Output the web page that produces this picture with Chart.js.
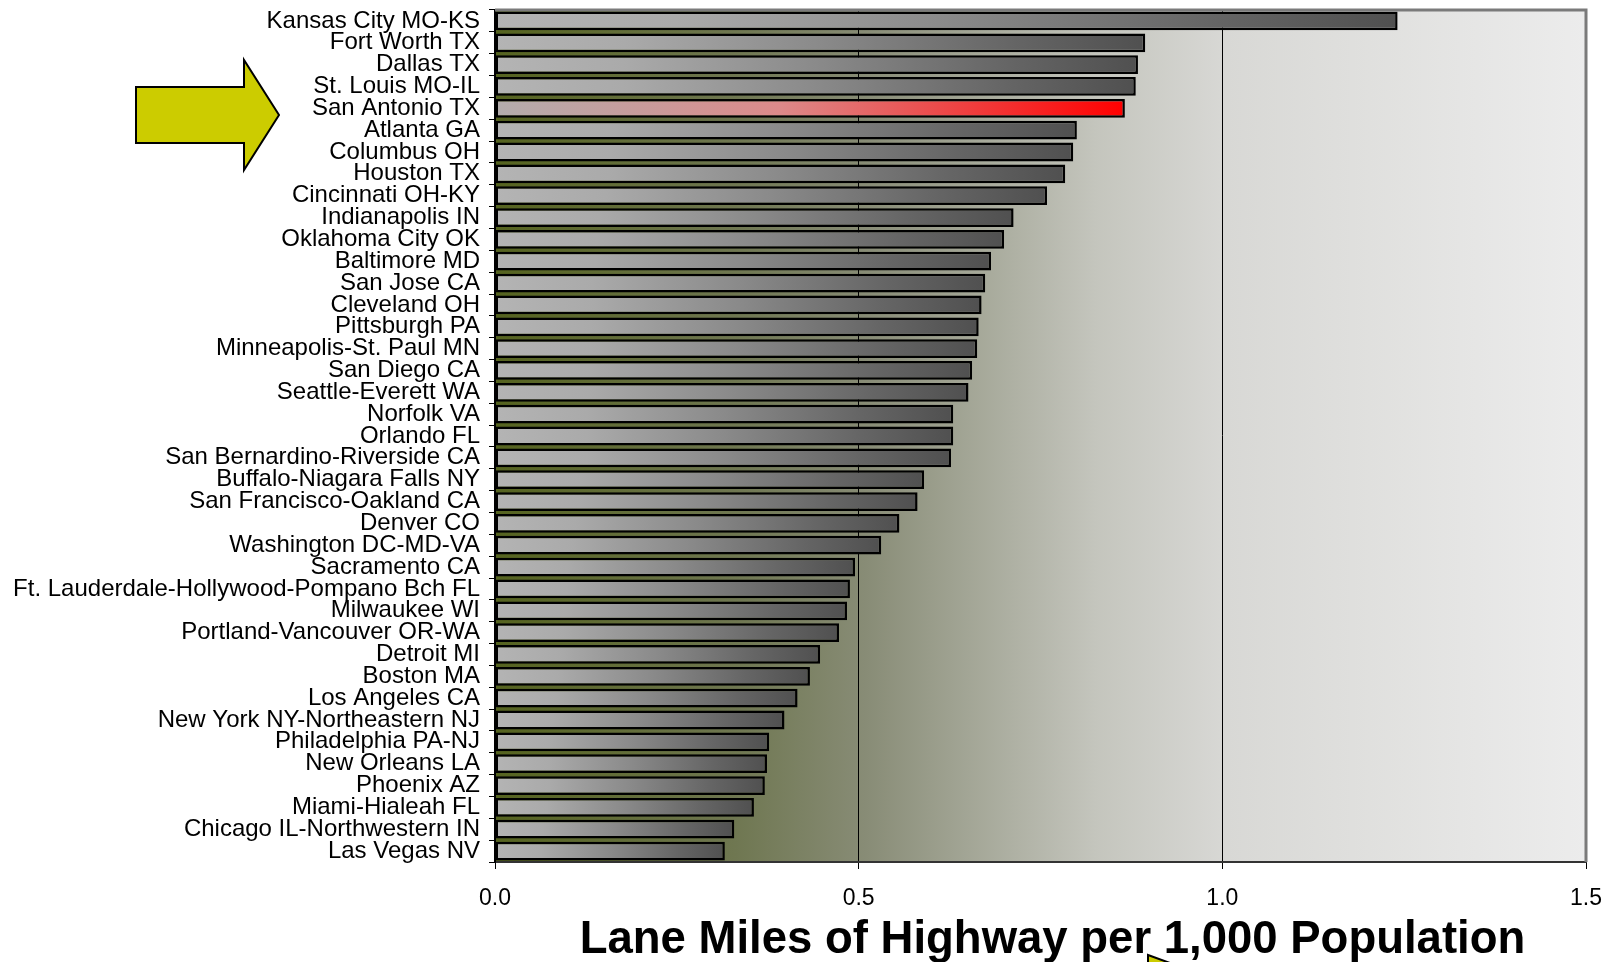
<!DOCTYPE html>
<html>
<head>
<meta charset="utf-8">
<title>Lane Miles of Highway per 1,000 Population</title>
<script src="https://cdn.jsdelivr.net/npm/chart.js@4.4.1/dist/chart.umd.min.js"></script>
<style>
  html, body { margin: 0; padding: 0; background: #ffffff; }
  canvas { display: block; }
</style>
</head>
<body>
<canvas id="chart" width="1610" height="962" style="width:1610px;height:962px"></canvas>
<script>
// Urbanized areas, ranked by lane miles of highway per 1,000 residents
const cities = [
  'Kansas City MO-KS', 'Fort Worth TX', 'Dallas TX', 'St. Louis MO-IL', 'San Antonio TX',
  'Atlanta GA', 'Columbus OH', 'Houston TX', 'Cincinnati OH-KY', 'Indianapolis IN',
  'Oklahoma City OK', 'Baltimore MD', 'San Jose CA', 'Cleveland OH', 'Pittsburgh PA',
  'Minneapolis-St. Paul MN', 'San Diego CA', 'Seattle-Everett WA', 'Norfolk VA', 'Orlando FL',
  'San Bernardino-Riverside CA', 'Buffalo-Niagara Falls NY', 'San Francisco-Oakland CA', 'Denver CO', 'Washington DC-MD-VA',
  'Sacramento CA', 'Ft. Lauderdale-Hollywood-Pompano Bch FL', 'Milwaukee WI', 'Portland-Vancouver OR-WA', 'Detroit MI',
  'Boston MA', 'Los Angeles CA', 'New York NY-Northeastern NJ', 'Philadelphia PA-NJ', 'New Orleans LA',
  'Phoenix AZ', 'Miami-Hialeah FL', 'Chicago IL-Northwestern IN', 'Las Vegas NV'
];

const laneMiles = [
  1.241, 0.894, 0.884, 0.881, 0.866,
  0.800, 0.795, 0.784, 0.759, 0.713,
  0.700, 0.682, 0.674, 0.669, 0.665,
  0.663, 0.656, 0.651, 0.630, 0.630,
  0.627, 0.590, 0.581, 0.556, 0.531,
  0.495, 0.488, 0.484, 0.473, 0.447,
  0.433, 0.416, 0.398, 0.377, 0.374,
  0.371, 0.356, 0.329, 0.316
];

const axisTicks = [0.0, 0.5, 1.0, 1.5];
const highlightCity = 'San Antonio TX';
const axisTitle = 'Lane Miles of Highway per 1,000 Population';

const FONT = "'Liberation Sans', Arial, Helvetica, sans-serif";

// Each bar gets its own left-to-right shading, light at the base and dark (or red) at the tip
function barFill(c) {
  const chart = c.chart;
  const xs = chart.scales && chart.scales.x;
  if (c.type !== 'data' || !chart.chartArea || !xs) return '#888888';
  const x0 = xs.getPixelForValue(0);
  const x1 = xs.getPixelForValue(c.raw);
  const g = chart.ctx.createLinearGradient(x0, 0, Math.max(x1, x0 + 1), 0);
  if (cities[c.dataIndex] === highlightCity) {
    g.addColorStop(0, '#b3adad');
    g.addColorStop(0.45, '#dc8a8a');
    g.addColorStop(1, '#ff0000');
  } else {
    g.addColorStop(0, '#b4b4b4');
    g.addColorStop(0.2, '#aaaaaa');
    g.addColorStop(0.5, '#8a8a8a');
    g.addColorStop(0.8, '#656565');
    g.addColorStop(1, '#505050');
  }
  return g;
}

// Plot-area backdrop: olive at the left fading to pale grey at the right
const backdrop = {
  id: 'backdrop',
  beforeDraw(chart) {
    const { ctx, chartArea: a } = chart;
    ctx.save();
    ctx.fillStyle = '#ffffff';
    ctx.fillRect(0, 0, chart.width, chart.height);
    const g = ctx.createLinearGradient(a.left, 0, a.right, 0);
    g.addColorStop(0, '#55631f');
    g.addColorStop(0.22, '#6f7751');
    g.addColorStop(0.34, '#888c76');
    g.addColorStop(0.55, '#c4c5bd');
    g.addColorStop(0.67, '#d8d8d5');
    g.addColorStop(1, '#ececec');
    ctx.fillStyle = g;
    ctx.fillRect(a.left, a.top, a.right - a.left, a.bottom - a.top);
    ctx.restore();
  }
};

// Grey frame along the top and right of the plot area
const frame = {
  id: 'frame',
  afterDatasetsDraw(chart) {
    const { ctx, chartArea: a } = chart;
    ctx.save();
    ctx.strokeStyle = '#7a7a7a';
    ctx.lineWidth = 3;
    ctx.beginPath();
    ctx.moveTo(a.left, a.top);
    ctx.lineTo(a.right, a.top);
    ctx.lineTo(a.right, a.bottom);
    ctx.stroke();
    ctx.restore();
  }
};

// Pointer arrows and the bold axis caption
const annotations = {
  id: 'annotations',
  afterDraw(chart) {
    const { ctx, chartArea: a } = chart;
    ctx.save();
    ctx.fillStyle = '#cccc00';
    ctx.strokeStyle = '#000000';
    ctx.lineWidth = 2;
    ctx.lineJoin = 'miter';

    // big arrow pointing at the highlighted row
    ctx.beginPath();
    ctx.moveTo(136, 87);
    ctx.lineTo(244, 87);
    ctx.lineTo(244, 60);
    ctx.lineTo(279, 115);
    ctx.lineTo(244, 170);
    ctx.lineTo(244, 143);
    ctx.lineTo(136, 143);
    ctx.closePath();
    ctx.fill();
    ctx.stroke();

    // caption under the axis
    ctx.fillStyle = '#000000';
    ctx.font = "bold 45.5px " + FONT;
    ctx.textAlign = 'center';
    ctx.textBaseline = 'alphabetic';
    ctx.fillText(axisTitle, (a.left + a.right) / 2 + 12, 953);

    // corner of a second arrow peeking in at the bottom edge
    ctx.fillStyle = '#cccc00';
    ctx.beginPath();
    ctx.moveTo(1148, 955);
    ctx.lineTo(1170, 963);
    ctx.lineTo(1148, 963);
    ctx.closePath();
    ctx.fill();
    ctx.beginPath();
    ctx.moveTo(1148, 963);
    ctx.lineTo(1148, 955);
    ctx.lineTo(1170, 963);
    ctx.stroke();
    ctx.restore();
  }
};

function noEdgePadding(scale) {
  scale.paddingTop = 0;
  scale.paddingBottom = 0;
  scale.paddingLeft = 0;
  scale.paddingRight = 0;
}

new Chart(document.getElementById('chart'), {
  type: 'bar',
  data: {
    labels: cities,
    datasets: [{
      data: laneMiles,
      backgroundColor: barFill,
      borderColor: '#000000',
      borderWidth: 2.5,
      borderSkipped: false,
      barPercentage: 1,
      categoryPercentage: 0.86
    }]
  },
  options: {
    indexAxis: 'y',
    responsive: false,
    devicePixelRatio: 1,
    animation: false,
    layout: { padding: { top: 10, right: 24, left: 0, bottom: 0 } },
    plugins: {
      legend: { display: false },
      tooltip: { enabled: false },
      title: { display: false }
    },
    scales: {
      x: {
        type: 'linear',
        min: axisTicks[0],
        max: axisTicks[axisTicks.length - 1],
        afterBuildTicks(scale) {
          scale.ticks = axisTicks.map(v => ({ value: v }));
        },
        ticks: {
          callback: v => Number(v).toFixed(1),
          color: '#000000',
          font: { family: FONT, size: 23 },
          padding: 16
        },
        grid: {
          color: '#000000',
          lineWidth: 1,
          tickLength: 7,
          drawOnChartArea: true
        },
        border: { color: '#333333', width: 2 },
        afterFit(scale) {
          scale.height = 100;
          noEdgePadding(scale);
        }
      },
      y: {
        type: 'category',
        ticks: {
          autoSkip: false,
          color: '#000000',
          font: { family: FONT, size: 24 },
          padding: 9
        },
        grid: {
          offset: true,
          drawOnChartArea: false,
          color: '#000000',
          tickLength: 6
        },
        border: { color: '#000000', width: 2 },
        afterFit(scale) {
          scale.width = 495;
          noEdgePadding(scale);
        }
      }
    }
  },
  plugins: [backdrop, frame, annotations]
});
</script>
</body>
</html>
